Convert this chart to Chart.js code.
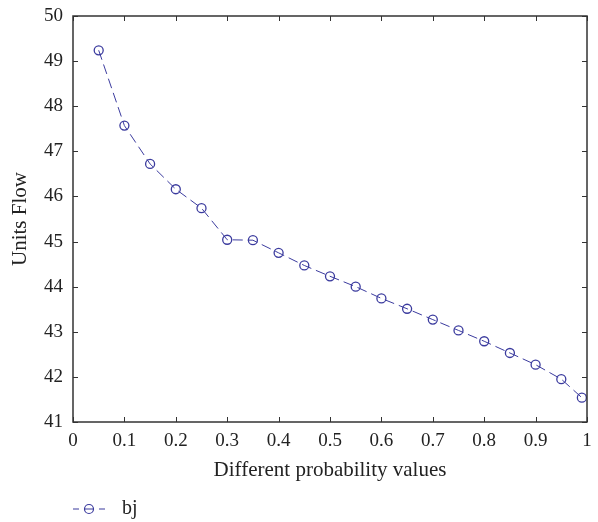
<!DOCTYPE html>
<html>
<head>
<meta charset="utf-8">
<script src="https://cdn.jsdelivr.net/npm/chart.js@4/dist/chart.umd.min.js"></script>
<style>
  html, body { margin: 0; padding: 0; background: #fff; }
  #wrap { width: 598px; height: 522px; }
</style>
</head>
<body>
<div id="wrap"><canvas id="flowChart" width="598" height="522"></canvas></div>
<script>
// probability values on the x axis
const probValues = [0.05, 0.1, 0.15, 0.2, 0.25, 0.3, 0.35, 0.4, 0.45, 0.5,
                    0.55, 0.6, 0.65, 0.7, 0.75, 0.8, 0.85, 0.9, 0.95, 0.99];
// units flow for series "bj"
const bjFlow = [49.24, 47.57, 46.72, 46.16, 45.74, 45.04, 45.03, 44.75, 44.47, 44.23,
                44.0, 43.74, 43.51, 43.27, 43.03, 42.79, 42.53, 42.27, 41.95, 41.54];
const xTicks = [0, 0.1, 0.2, 0.3, 0.4, 0.5, 0.6, 0.7, 0.8, 0.9, 1];
const yTicks = [41, 42, 43, 44, 45, 46, 47, 48, 49, 50];

const lineColor = '#3b3b9e';
const fontFam = '"Liberation Serif", "DejaVu Serif", serif';

// box round the plot + ticks pointing inwards (matlab style)
const boxTicks = {
    id: 'boxTicks',
    afterDraw(chart) {
        const { ctx, chartArea: a, scales: { x, y } } = chart;
        ctx.save();
        ctx.strokeStyle = '#333';
        ctx.lineWidth = 1;
        ctx.beginPath();
        x.ticks.forEach(t => {
            const px = Math.round(x.getPixelForValue(t.value)) + 0.5;
            ctx.moveTo(px, a.bottom); ctx.lineTo(px, a.bottom - 5);
            ctx.moveTo(px, a.top); ctx.lineTo(px, a.top + 5);
        });
        y.ticks.forEach(t => {
            const py = Math.round(y.getPixelForValue(t.value)) + 0.5;
            ctx.moveTo(a.left, py); ctx.lineTo(a.left + 5, py);
            ctx.moveTo(a.right, py); ctx.lineTo(a.right - 5, py);
        });
        ctx.stroke();
        ctx.lineWidth = 1.5;
        ctx.strokeRect(a.left, a.top, a.right - a.left, a.bottom - a.top);
        ctx.restore();
    }
};

// legend under the axis title: dashed line with circle, then label
const bottomLegend = {
    id: 'bottomLegend',
    afterDraw(chart) {
        const { ctx, chartArea: a } = chart;
        const ds = chart.data.datasets[0];
        const x0 = a.left, yc = 509;
        ctx.save();
        ctx.strokeStyle = ds.borderColor;
        ctx.lineWidth = 1.2;
        ctx.beginPath();
        ctx.moveTo(x0, yc); ctx.lineTo(x0 + 6, yc);
        ctx.moveTo(x0 + 11, yc); ctx.lineTo(x0 + 21, yc);
        ctx.moveTo(x0 + 26, yc); ctx.lineTo(x0 + 32, yc);
        ctx.stroke();
        ctx.beginPath();
        ctx.arc(x0 + 16, yc, ds.pointRadius, 0, Math.PI * 2);
        ctx.stroke();
        ctx.fillStyle = '#222';
        ctx.font = '20px ' + fontFam;
        ctx.textBaseline = 'middle';
        ctx.fillText(ds.label, x0 + 49, yc);
        ctx.restore();
    }
};

const ctx = document.getElementById('flowChart').getContext('2d');
new Chart(ctx, {
    type: 'line',
    data: {
        datasets: [{
            label: 'bj',
            data: probValues.map((p, i) => ({ x: p, y: bjFlow[i] })),
            borderColor: lineColor,
            borderWidth: 1,
            borderDash: [10, 5],
            pointRadius: 4.5,
            pointBorderWidth: 1.3,
            pointBackgroundColor: 'rgba(0,0,0,0)',
            pointBorderColor: lineColor,
            tension: 0,
            fill: false
        }]
    },
    plugins: [boxTicks, bottomLegend],
    options: {
        responsive: false,
        animation: false,
        layout: { padding: { top: 16, right: 11, left: 0, bottom: 0 } },
        plugins: { legend: { display: false }, tooltip: { enabled: false } },
        scales: {
            x: {
                type: 'linear',
                min: 0, max: 1,
                afterBuildTicks: s => { s.ticks = xTicks.map(v => ({ value: v })); },
                afterFit: s => { s.height = 100; s.paddingLeft = 0; s.paddingRight = 0; },
                grid: { display: false, drawTicks: false },
                border: { display: false },
                ticks: {
                    padding: 8,
                    color: '#222',
                    font: { family: fontFam, size: 19 },
                    maxRotation: 0,
                    callback: v => String(v)
                },
                title: {
                    display: true,
                    text: 'Different probability values',
                    color: '#222',
                    font: { family: fontFam, size: 21 },
                    padding: { top: 0, bottom: 39 }
                }
            },
            y: {
                type: 'linear',
                min: 41, max: 50,
                afterBuildTicks: s => { s.ticks = yTicks.map(v => ({ value: v })); },
                afterFit: s => { s.width = 73; s.paddingTop = 0; s.paddingBottom = 0; },
                grid: { display: false, drawTicks: false },
                border: { display: false },
                ticks: {
                    padding: 10,
                    color: '#222',
                    font: { family: fontFam, size: 19 },
                    callback: v => String(v)
                },
                title: {
                    display: true,
                    text: 'Units Flow',
                    color: '#222',
                    font: { family: fontFam, size: 21 },
                    padding: { top: 8, bottom: 0 }
                }
            }
        }
    }
});
</script>
</body>
</html>
